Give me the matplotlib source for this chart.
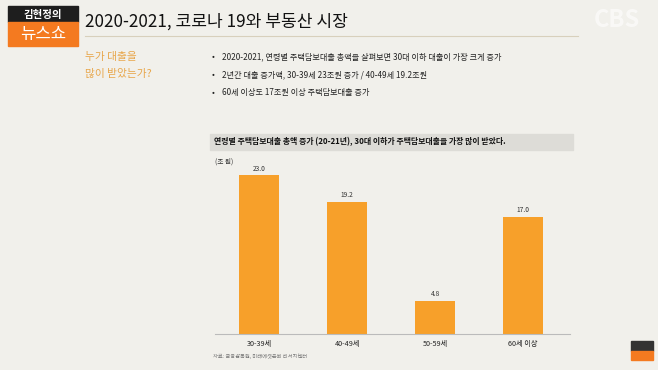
import numpy as np
import matplotlib.pyplot as plt
from matplotlib.patches import Rectangle

plt.rcParams['font.family'] = ['Noto Sans CJK KR', 'DejaVu Sans']

# datos del grafico
categorias = ['30-39세', '40-49세', '50-59세', '60세 이상']
valores = [23.0, 19.2, 4.8, 17.0]
vinetas = ['2020-2021, 연령별 주택담보대출 총액을 살펴보면 30대 이하 대출이 가장 크게 증가',
           '2년간 대출 증가액, 30-39세 23조원 증가 / 40-49세 19.2조원',
           '60세 이상도 17조원 이상 주택담보대출 증가']
titulo = '2020-2021, 코로나 19와 부동산 시장'
titulo_grafico = '연령별 주택담보대출 총액 증가 (20-21년), 30대 이하가 주택담보대출을 가장 많이 받았다.'
fuente = '자료: 금융감독원, 미래에셋은퇴 리서치센터'

fondo = '#f1f0eb'
naranja = '#f7a02a'

W, H = 658, 370
fig = plt.figure(figsize=(W / 100, H / 100), dpi=100, facecolor=fondo)

# capa de fondo en pixeles
bg = fig.add_axes([0, 0, 1, 1])
bg.set_xlim(0, W)
bg.set_ylim(H, 0)
bg.axis('off')

# logo
bg.add_patch(Rectangle((8, 6), 70, 16, color='#1e1e1e'))
bg.add_patch(Rectangle((8, 22), 70, 24, color='#f47a20'))
bg.text(43, 14.5, '김현정의', color='white', fontsize=7.5, ha='center', va='center', weight='bold')
bg.text(43, 34, '뉴스쇼', color='white', fontsize=12, ha='center', va='center')

# titulo
bg.text(85, 22, titulo, fontsize=12.3, ha='left', va='center', color='#111111', weight='medium')
bg.plot([85, 578], [36, 36], color='#d8d0bc', lw=0.8)
bg.text(640, 20, 'CBS', fontsize=17, ha='right', va='center', color='white', alpha=0.6, weight='bold')

# subtitulo
bg.text(85, 57, '누가 대출을', fontsize=7.7, color='#e8a64a', va='center')
bg.text(85, 74, '많이 받았는가?', fontsize=7.7, color='#e8a64a', va='center')

for i, t in enumerate(vinetas):
    y = 57 + i * 17.5
    bg.text(212, y, '•', fontsize=6, va='center', color='#222222')
    bg.text(222, y, t, fontsize=5.85, va='center', color='#222222')

# banda del titulo del grafico
bg.add_patch(Rectangle((210, 134), 363, 16, color='#dddcd7'))
bg.text(214, 142, titulo_grafico, fontsize=5.7, va='center', weight='bold', color='#111111')
bg.text(215, 162, '(조 원)', fontsize=4.8, va='center', color='#333333')
bg.text(213, 356, fuente, fontsize=3.8, va='center', color='#777777')

# logo abajo
bg.add_patch(Rectangle((631, 341), 22, 10, color='#333333'))
bg.add_patch(Rectangle((631, 351), 22, 9, color='#f47a20'))

# grafico de barras
ax = fig.add_axes([215 / W, (H - 334) / H, 355 / W, 174 / H])
ax.set_facecolor('none')
x = np.arange(len(categorias))
ax.bar(x, valores, width=0.455, color=naranja)
for xi, v in zip(x, valores):
    ax.text(xi, v + 0.35, f'{v:.1f}', ha='center', va='bottom', fontsize=4.8, color='#333333')
ax.set_xlim(-0.5, 3.534)
ax.set_ylim(0, 174 / 6.9)
ax.set_xticks(x)
ax.set_xticklabels(categorias, fontsize=5.2, color='#222222')
ax.tick_params(axis='x', length=0, pad=4)
ax.set_yticks([])
for s in ['top', 'right', 'left']:
    ax.spines[s].set_visible(False)
ax.spines['bottom'].set_color('#bbbbbb')
ax.spines['bottom'].set_linewidth(0.8)

fig.savefig('out.png', dpi=100, facecolor=fondo)
